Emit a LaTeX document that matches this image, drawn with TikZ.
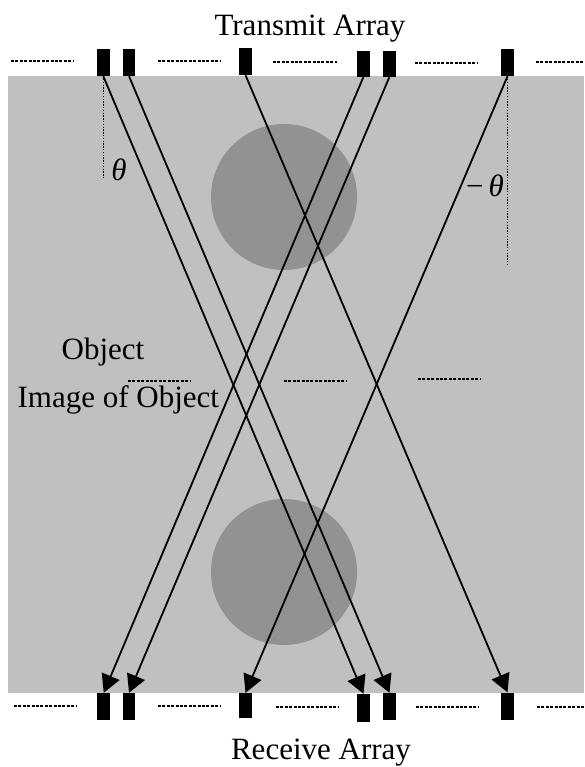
\documentclass[tikz,border=0pt]{standalone}
\usepackage{fontspec}
\setmainfont{Liberation Serif}
\usetikzlibrary{arrows.meta}
\definecolor{bg}{RGB}{192,192,192}
\definecolor{blob}{RGB}{146,146,146}

\begin{document}
\begin{tikzpicture}[x=1pt,y=-1pt,font=\fontsize{31}{37}\selectfont,>={Triangle[length=18pt,width=19pt]},
  el/.style={fill=black,minimum width=12.5pt,minimum height=27pt,inner sep=0pt},
  ray/.style={->,line width=1.8pt},
  gl/.style={line width=2.6pt,dash pattern=on 3pt off 1.4pt},
  vl/.style={line width=1.6pt,dash pattern=on 1.4pt off 1.4pt},
  lbl/.style={anchor=base,inner sep=0pt}]
  \useasboundingbox (0,0) rectangle (584,767);
  % medium and the two objects
  \fill[bg] (8,76) rectangle (584,693);
  \fill[blob] (284,197) circle (73);
  \fill[blob] (284,572) circle (73);
  % gaps between elements
  \draw[gl] (11,61)--(74,61) (158,61)--(220,61) (273,62)--(337,62) (415,63)--(477,63) (536,62)--(584,62);
  \draw[gl] (14,706)--(76,706) (158,706)--(220,706) (276,707)--(339,707) (416,707)--(478,707) (537,707)--(584,707);
  \draw[gl] (128,381)--(190,381) (284,381)--(346,381) (418,379)--(480,379);
  % transmit array
  \node[el](tA) at (103.3,62.5){};
  \node[el](tB) at (129,62.5){};
  \node[el](tC) at (245.5,61.5){};
  \node[el,minimum height=26pt](tD) at (363.3,64){};
  \node[el,minimum height=26pt](tE) at (389.3,64){};
  \node[el](tF) at (507.5,62.5){};
  % receive array
  \node[el](rA) at (103.7,706.5){};
  \node[el](rB) at (129,706.5){};
  \node[el,minimum height=25pt](rC) at (245.5,705.5){};
  \node[el,minimum height=28pt](rD) at (363.5,708){};
  \node[el](rE) at (389.5,706.5){};
  \node[el](rF) at (507.5,706){};
  % angle references
  \coordinate (thA) at (103.3,178);
  \coordinate (thF) at (507.5,265);
  \draw[vl](tA.south)--(thA);\draw[vl](tF.south)--(thF);
  % rays
  \draw[ray](tA.south)--(rD.north);\draw[ray](tB.south)--(rE.north);\draw[ray](tC.south)--(rF.north);
  \draw[ray](tD.south)--(rA.north);\draw[ray](tE.south)--(rB.north);\draw[ray](tF.south)--(rC.north);
  % labels
  \node[lbl](tx) at (310,36){Transmit Array};
  \node[lbl](rx) at (321,759){Receive Array};
  \node[lbl](obj) at (103,359){Object};
  \node[lbl](img) at (118.3,407){Image of Object};
  \node(th) at (119,170){\itshape θ};
  \node(mth) at (485,186){−\,\itshape θ};
\end{tikzpicture}
\end{document}
